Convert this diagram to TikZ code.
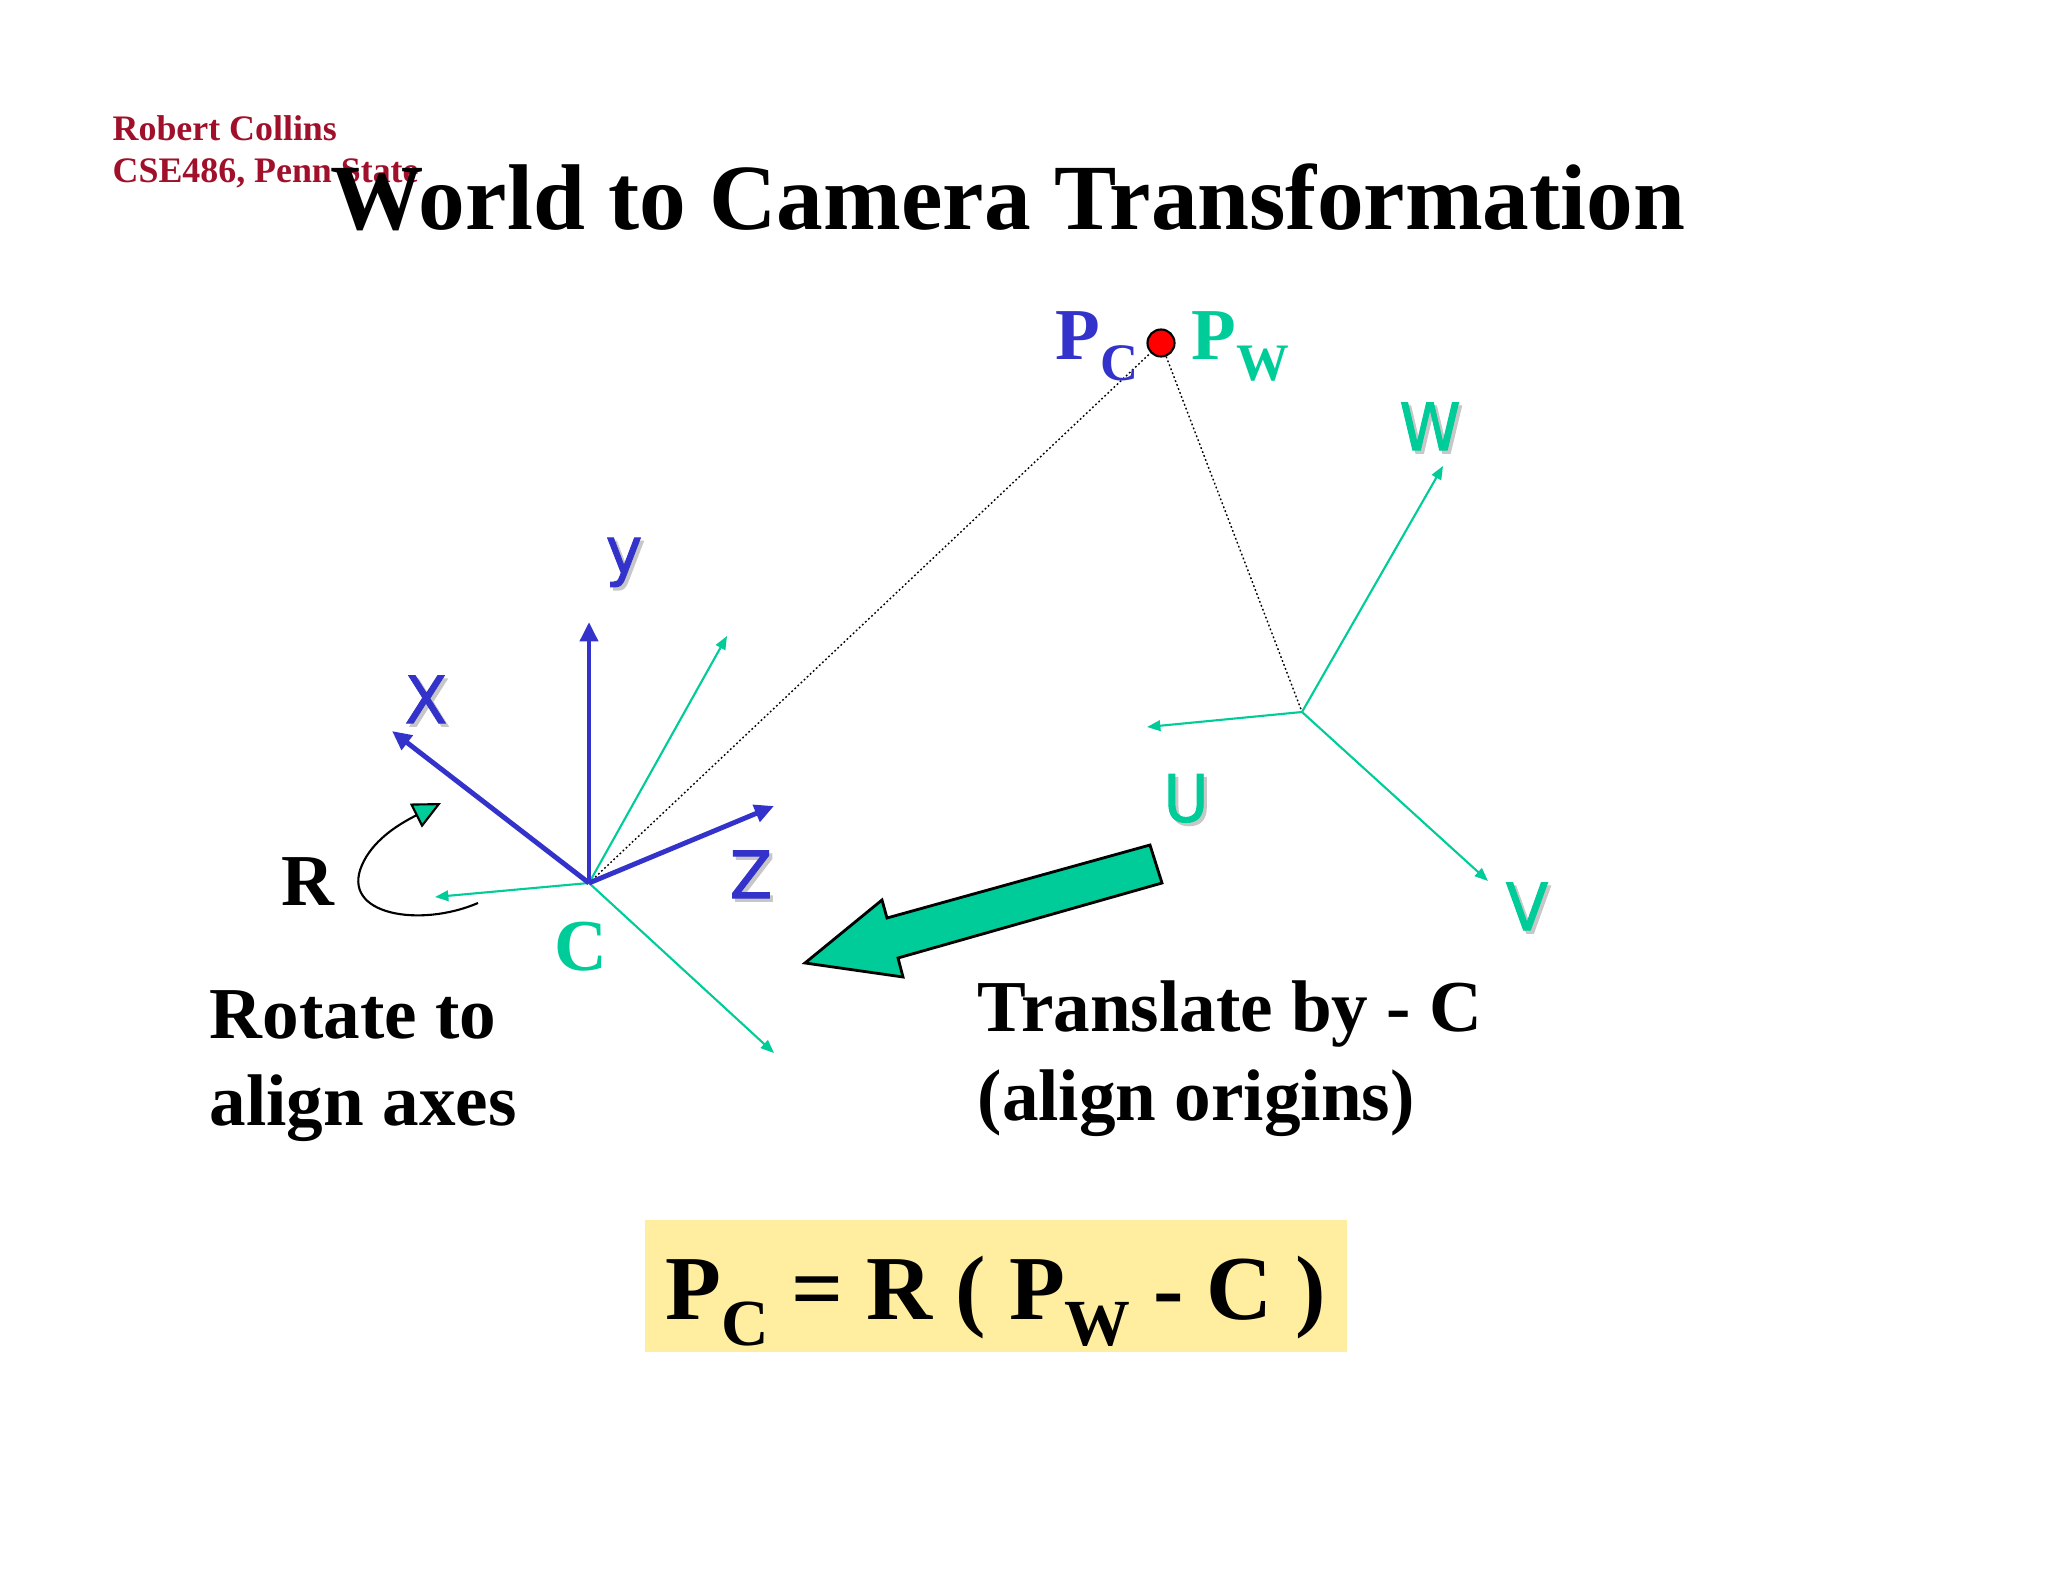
\documentclass[tikz,border=0pt]{standalone}
\usepackage{fontspec}
\usepackage{graphicx}
\setmainfont{Liberation Serif}
\newfontfamily\axisfont[FakeBold=1.5]{DejaVu Sans}
\usetikzlibrary{arrows.meta}
\definecolor{axisblue}{RGB}{51,51,204}
\definecolor{axisgreen}{RGB}{0,204,153}
\definecolor{authorred}{RGB}{160,16,42}
\definecolor{boxyellow}{RGB}{255,238,160}
\newcommand{\shadowed}[1]{\makebox[0pt][l]{\hspace{0.05em}\raisebox{-0.05em}{\color{black!22}#1}}#1}
\newcommand{\axlabel}[1]{\scalebox{0.95}[1]{\shadowed{#1}}}
\newcommand{\lowsub}[1]{\raisebox{-0.29em}{\scalebox{0.72}{#1}}}

\begin{document}
\begin{tikzpicture}[x=0.01cm,y=-0.01cm]
\tikzstyle{every node}=[inner sep=0pt]
\tikzstyle{camaxis}=[draw=axisblue, line width=1.4pt, -{Triangle[length=5.5pt,width=5pt]}]
\tikzstyle{worldaxis}=[draw=axisgreen, line width=0.6pt, -{Triangle[length=3.8pt,width=3pt]}]
\tikzstyle{dotline}=[draw=black, line width=0.4pt, dash pattern=on 0.5pt off 0.7pt]
\tikzstyle{axislabel}=[font=\axisfont\fontsize{18.5}{20}\selectfont]
\tikzstyle{serifbig}=[font=\bfseries\fontsize{20.8}{24}\selectfont]

\useasboundingbox (0,0) rectangle (2048,1582);

% header
\node[anchor=base west, text=authorred, font=\bfseries\fontsize{10.2}{12}\selectfont] (author) at (112,141) {Robert Collins};
\node[anchor=base west, text=authorred, font=\bfseries\fontsize{10.2}{12}\selectfont] (course) at (112,183) {CSE486, Penn State};
\node[anchor=base west, font=\bfseries\fontsize{26.55}{30}\selectfont] (title) at (330,229) {World to Camera Transformation};

% origins and axis ends
\coordinate (camorigin) at (589,883);
\coordinate (worldorigin) at (1302,712);
\coordinate (xtip) at (392,731);
\coordinate (ytip) at (589,622);
\coordinate (ztip) at (774,806);
\coordinate (cwtip) at (727,636);
\coordinate (cutip) at (435,897);
\coordinate (cvtip) at (774,1053);
\coordinate (wtip) at (1443,466);
\coordinate (utip) at (1147,727);
\coordinate (vtip) at (1488,881);

\node[circle, fill=red, draw=black, line width=0.6pt, minimum size=0.27cm] (point) at (1161,343) {};

\draw[dotline] (camorigin) -- (point);
\draw[dotline] (point) -- (worldorigin);

% world axes
\draw[worldaxis] (worldorigin) -- (wtip);
\draw[worldaxis] (worldorigin) -- (utip);
\draw[worldaxis] (worldorigin) -- (vtip);

% world axes moved to C
\draw[worldaxis] (camorigin) -- (cwtip);
\draw[worldaxis] (camorigin) -- (cutip);
\draw[worldaxis] (camorigin) -- (cvtip);

% camera axes
\draw[camaxis] (camorigin) -- (xtip);
\draw[camaxis] (camorigin) -- (ytip);
\draw[camaxis] (camorigin) -- (ztip);

\node[axislabel, text=axisblue] (xname) at (426,701) {\axlabel{X}};
\node[axislabel, text=axisblue] (yname) at (624,564) {\axlabel{y}};
\node[axislabel, text=axisblue] (zname) at (751,876) {\axlabel{Z}};
\node[axislabel, text=axisgreen] (wname) at (1430,428) {\axlabel{W}};
\node[axislabel, text=axisgreen] (uname) at (1186,800) {\axlabel{U}};
\node[axislabel, text=axisgreen] (vname) at (1527,908) {\axlabel{V}};

\node[serifbig, anchor=base west, text=axisblue] (pcname) at (1055,359) {P\lowsub{C}};
\node[serifbig, anchor=base west, text=axisgreen] (pwname) at (1191,359) {P\lowsub{W}};
\node[serifbig, text=axisgreen] (cname) at (581,947) {C};
\node[serifbig] (rname) at (308,882) {R};

% rotation
\draw[line width=0.6pt, -{Triangle[length=8pt,width=7.5pt,fill=axisgreen]}] (478,903) .. controls (420,928) and (340,915) .. (362,865) .. controls (372,842) and (395,826) .. (441,803);

% translation
\filldraw[fill=axisgreen, draw=black, line width=0.8pt] (1150,845) -- (1162,883) -- (898,958) -- (903,977) -- (805,963) -- (882,900) -- (887,918) -- cycle;

\node[serifbig, anchor=base west] (rotate1) at (209,1038) {Rotate to};
\node[serifbig, anchor=base west] (rotate2) at (209,1125) {align axes};
\node[serifbig, anchor=base west] (translate1) at (977,1031) {Translate by - C};
\node[serifbig, anchor=base west] (translate2) at (977,1120) {(align origins)};

% formula
\node[fill=boxyellow, minimum width=7.01cm, minimum height=1.31cm] (formulabox) at (996,1286) {};
\node[anchor=base, font=\bfseries\fontsize{26}{30}\selectfont] (formula) at (996,1319) {P\lowsub{C} = R ( P\lowsub{W} - C )};
\end{tikzpicture}
\end{document}
